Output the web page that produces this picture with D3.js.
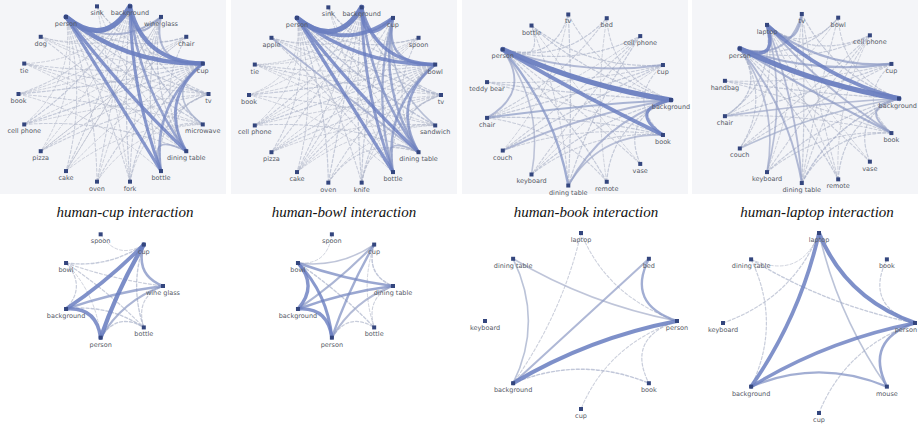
<!DOCTYPE html>
<html><head><meta charset="utf-8">
<script src="https://cdn.jsdelivr.net/npm/d3@7"></script>
<style>body{margin:0;background:#fff}svg{display:block}</style>
</head><body>
<svg id="c" width="919" height="424"></svg>
<script>
// ---------- DATA ----------
const captions = ["human-cup interaction","human-bowl interaction","human-book interaction","human-laptop interaction"];

// node names, listed counter-clockwise starting from the rightmost node
const nodes1 = ["tv","cup","chair","wine glass","background","sink","person","dog","tie","book","cell phone","pizza","cake","oven","fork","bottle","dining table","microwave"];
const nodes2 = ["tv","bowl","spoon","cup","background","sink","person","apple","tie","book","cell phone","pizza","cake","oven","knife","bottle","dining table","sandwich"];
const nodes3 = ["background","cup","cell phone","bed","tv","bottle","person","teddy bear","chair","couch","keyboard","dining table","remote","vase","book"];
const nodes4 = ["background","cup","cell phone","bowl","tv","laptop","person","handbag","chair","couch","keyboard","dining table","remote","vase","book"];
const nodes5 = ["wine glass","cup","spoon","bowl","background","person","bottle"];
const nodes6 = ["dining table","cup","spoon","bowl","background","person","bottle"];
const nodes7 = ["person","bed","laptop","dining table","keyboard","background","cup","book"];
const nodes8 = ["person","book","laptop","dining table","keyboard","background","cup","mouse"];

// edges: [source index, target index, weight]
const edges1 = [[6,4,1.0],[6,1,0.85],[4,1,0.8],[6,16,0.6],[6,15,0.55],[4,15,0.55],[4,16,0.45],[1,16,0.5],[1,15,0.45],[4,3,0.35],[3,1,0.3],[6,3,0.3],[16,15,0.28],[1,17,0.24],[4,17,0.2],
 [6,0,0.15],[6,2,0.15],[6,17,0.15],[6,14,0.12],[6,13,0.12],[6,12,0.12],[6,11,0.1],[6,10,0.1],[4,0,0.15],[4,2,0.12],[4,14,0.15],[4,13,0.12],[4,12,0.12],[4,11,0.1],[4,10,0.15],[4,9,0.12],[4,8,0.1],[4,7,0.1],
 [1,14,0.15],[1,13,0.12],[1,12,0.1],[1,11,0.12],[1,10,0.15],[1,9,0.15],[1,8,0.12],[1,7,0.1],[1,0,0.18],[2,16,0.12],[2,9,0.1],[2,11,0.1],[3,15,0.15],[3,16,0.15],[3,12,0.1],[3,9,0.1],[5,16,0.1],[5,14,0.1],
 [7,16,0.12],[7,0,0.1],[8,0,0.12],[8,17,0.1],[9,17,0.12],[10,0,0.1],[10,16,0.12],[11,0,0.12],[11,2,0.1],[12,3,0.1],[13,3,0.1],[14,3,0.12],[14,0,0.1],[15,0,0.15],[16,0,0.15],[17,16,0.12],[8,16,0.1],[9,15,0.1],[10,2,0.1],[12,17,0.1],[13,17,0.1],[5,1,0.12],[5,3,0.1],[7,3,0.1]];
const edges2 = [[6,4,1.0],[6,3,0.7],[4,3,0.6],[6,1,0.65],[4,1,0.6],[3,1,0.4],[6,16,0.6],[6,15,0.6],[4,15,0.5],[4,16,0.45],[1,16,0.45],[1,15,0.42],[3,16,0.42],[3,15,0.38],[7,16,0.3],[16,15,0.25],[3,17,0.24],[6,17,0.2],
 [6,0,0.15],[6,2,0.15],[6,14,0.12],[6,13,0.15],[6,12,0.12],[6,11,0.12],[6,10,0.1],[6,9,0.1],[4,0,0.15],[4,2,0.12],[4,14,0.15],[4,13,0.15],[4,12,0.12],[4,11,0.12],[4,10,0.12],[4,9,0.1],[4,8,0.1],[4,7,0.12],
 [1,14,0.15],[1,13,0.12],[1,12,0.12],[1,11,0.12],[1,10,0.15],[1,9,0.15],[1,8,0.12],[1,7,0.12],[1,0,0.18],[2,16,0.12],[2,9,0.1],[2,12,0.1],[3,14,0.15],[3,12,0.12],[3,10,0.1],[3,8,0.1],[5,16,0.1],[5,15,0.1],
 [7,15,0.12],[7,0,0.1],[8,0,0.12],[8,17,0.1],[9,17,0.12],[10,0,0.1],[10,16,0.12],[11,0,0.12],[11,2,0.1],[12,0,0.1],[13,16,0.12],[14,16,0.12],[14,0,0.1],[15,0,0.15],[16,0,0.15],[17,16,0.12],[8,16,0.1],[9,15,0.1],[10,2,0.1],[12,17,0.1],[13,17,0.1],[5,1,0.12],[5,3,0.12],[7,3,0.1],[11,17,0.1]];
const edges3 = [[6,0,1.0],[6,14,0.7],[0,14,0.55],[6,11,0.4],[6,8,0.3],[8,0,0.34],[6,1,0.3],[9,0,0.3],[11,0,0.3],[11,14,0.25],[6,10,0.22],
 [6,3,0.15],[6,4,0.15],[6,5,0.15],[6,2,0.15],[6,13,0.12],[6,12,0.15],[5,1,0.15],[5,0,0.15],[5,11,0.12],[4,11,0.15],[4,0,0.12],[3,8,0.12],[2,11,0.15],[2,10,0.12],[1,8,0.15],[1,9,0.15],[1,14,0.12],
 [7,0,0.15],[7,1,0.12],[9,14,0.12],[10,0,0.15],[10,14,0.12],[12,0,0.15],[12,8,0.12],[13,0,0.15],[8,14,0.15],[9,2,0.12],[3,0,0.12],[4,9,0.1],[5,13,0.1],[7,14,0.12],[10,1,0.1],[12,3,0.1],[2,8,0.1]];
const edges4 = [[6,0,1.0],[5,0,0.7],[6,5,0.65],[5,4,0.35],[6,4,0.3],[5,1,0.35],[6,1,0.35],[6,14,0.35],[5,14,0.3],[0,14,0.3],[6,11,0.3],[5,11,0.28],[5,10,0.25],[6,10,0.25],[8,0,0.25],[9,0,0.24],
 [6,3,0.15],[6,2,0.15],[6,13,0.12],[6,12,0.15],[6,8,0.18],[6,9,0.15],[5,3,0.12],[5,2,0.15],[5,12,0.12],[5,8,0.15],[5,9,0.12],[4,11,0.15],[4,0,0.15],[3,0,0.12],[3,11,0.12],[2,11,0.12],[2,10,0.12],[1,8,0.15],
 [1,9,0.12],[1,14,0.12],[7,0,0.15],[7,1,0.12],[7,14,0.12],[10,0,0.15],[10,14,0.12],[12,0,0.15],[12,4,0.12],[13,0,0.15],[8,14,0.12],[9,2,0.12],[11,0,0.2],[11,14,0.15],[4,10,0.1],[13,5,0.1],[12,2,0.1],[8,3,0.1]];
const edges5 = [[1,5,0.8],[1,4,0.7],[4,5,0.65],[1,0,0.42],[4,0,0.4],[5,0,0.35],[1,6,0.18],[3,1,0.18],[3,4,0.15],[3,6,0.15],[3,0,0.14],[4,6,0.18],[5,6,0.18],[6,0,0.14],[3,5,0.1],[2,1,0.1]];
const edges6 = [[3,4,0.6],[4,5,0.6],[3,5,0.55],[3,0,0.45],[4,0,0.45],[5,1,0.4],[4,1,0.35],[5,0,0.3],[3,1,0.22],[1,0,0.2],[3,6,0.18],[2,3,0.1],[5,6,0.15],[1,6,0.1],[0,6,0.12]];
const edges7 = [[5,0,0.75],[5,1,0.32],[1,0,0.4],[3,0,0.22],[3,5,0.24],[2,0,0.12],[2,5,0.12],[5,7,0.2],[0,7,0.15],[0,6,0.12]];
const edges8 = [[2,0,0.75],[2,5,0.7],[5,0,0.6],[0,7,0.45],[5,7,0.4],[2,7,0.24],[3,0,0.18],[3,5,0.15],[4,2,0.15],[1,0,0.15],[6,0,0.15],[3,2,0.1]];

// ---------- LAYOUT ----------
const panels = [
  {nodes:nodes1, edges:edges1, cx:113.5, cy:94,  rx:95, ry:89, bg:[0,226]},
  {nodes:nodes2, edges:edges2, cx:345,   cy:95,  rx:96, ry:89, bg:[231,457]},
  {nodes:nodes3, edges:edges3, cx:578,   cy:100, rx:93, ry:86, bg:[462,688]},
  {nodes:nodes4, edges:edges4, cx:811,   cy:98.5,rx:88, ry:85, bg:[692,918]},
  {nodes:nodes5, edges:edges5, cx:112,   cy:286, rx:51, ry:53},
  {nodes:nodes6, edges:edges6, cx:343,   cy:286, rx:50, ry:53},
  {nodes:nodes7, edges:edges7, cx:581,   cy:321, rx:96, ry:88},
  {nodes:nodes8, edges:edges8, cx:819,   cy:323, rx:96, ry:90}
];
const capX = [125, 344, 586, 817];

const svg = d3.select("#c");
const wScale = d3.scaleLinear().domain([0,1]).range([0.5,5.2]);
const cScale = d3.scaleLinear().domain([0.1,0.55]).range(["#b3b9c9","#6a7ec0"]).clamp(true);
const oScale = d3.scaleLinear().domain([0,1]).range([0.6,0.95]);

panels.forEach(p => {
  const g = svg.append("g");
  if (p.bg) g.append("rect").attr("x",p.bg[0]).attr("y",0).attr("width",p.bg[1]-p.bg[0]).attr("height",194).attr("fill","#f4f5f8");
  const n = p.nodes.length;
  const ang = d3.scaleLinear().domain([0,n]).range([0,-2*Math.PI]);
  const pos = p.nodes.map((d,i)=>[p.cx + p.rx*Math.cos(ang(i)), p.cy + p.ry*Math.sin(ang(i))]);
  const es = p.edges.slice().sort((a,b)=>a[2]-b[2]);
  g.selectAll("path.e").data(es).join("path")
    .attr("d", e => {
      const a = pos[e[0]], b = pos[e[1]];
      const mx=(a[0]+b[0])/2, my=(a[1]+b[1])/2, t=0.45;
      const qx = mx + t*(p.cx-mx), qy = my + t*(p.cy-my);
      const path = d3.path(); path.moveTo(a[0],a[1]); path.quadraticCurveTo(qx,qy,b[0],b[1]);
      return path.toString();
    })
    .attr("fill","none")
    .attr("stroke", e => cScale(e[2]))
    .attr("stroke-width", e => wScale(e[2]))
    .attr("stroke-opacity", e => oScale(e[2]))
    .attr("stroke-dasharray", e => e[2] < 0.21 ? "3,2" : null)
    .attr("stroke-linecap","round");
  g.selectAll("rect.n").data(pos).join("rect")
    .attr("x", d=>d[0]-2).attr("y", d=>d[1]-2).attr("width",4).attr("height",4)
    .attr("fill","#34467e");
  g.selectAll("text.l").data(p.nodes).join("text")
    .attr("x", (d,i)=>pos[i][0]).attr("y",(d,i)=>pos[i][1]+9)
    .attr("text-anchor","middle")
    .attr("font-family","DejaVu Sans, sans-serif").attr("font-size",6.5)
    .attr("fill","#555a66").text(d=>d)
    .each(function(d,i){
      const w = this.getComputedTextLength();
      const x = pos[i][0];
      if (x + w/2 > 917) d3.select(this).attr("x", 917 - w/2);
      if (x - w/2 < 2) d3.select(this).attr("x", 2 + w/2);
    });
});

svg.selectAll("text.cap").data(captions).join("text")
  .attr("x",(d,i)=>capX[i]).attr("y",217).attr("text-anchor","middle")
  .attr("font-family","Liberation Serif, serif").attr("font-style","italic")
  .attr("font-size",15).attr("fill","#111").text(d=>d);
</script>
</body></html>
